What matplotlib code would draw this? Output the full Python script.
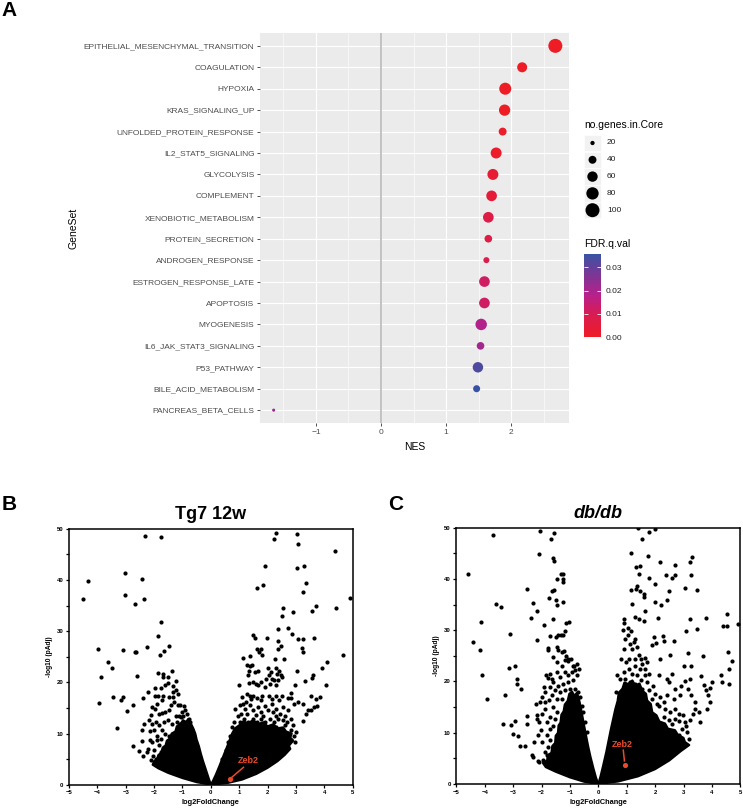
import numpy as np
import matplotlib.pyplot as plt
from matplotlib.colors import LinearSegmentedColormap, Normalize

plt.rcParams['font.family'] = ['Liberation Sans', 'DejaVu Sans']

# ---------------- panel A : GSEA hallmark sets ----------------
gene_sets = ['EPITHELIAL_MESENCHYMAL_TRANSITION', 'COAGULATION', 'HYPOXIA',
             'KRAS_SIGNALING_UP', 'UNFOLDED_PROTEIN_RESPONSE', 'IL2_STAT5_SIGNALING',
             'GLYCOLYSIS', 'COMPLEMENT', 'XENOBIOTIC_METABOLISM', 'PROTEIN_SECRETION',
             'ANDROGEN_RESPONSE', 'ESTROGEN_RESPONSE_LATE', 'APOPTOSIS', 'MYOGENESIS',
             'IL6_JAK_STAT3_SIGNALING', 'P53_PATHWAY', 'BILE_ACID_METABOLISM',
             'PANCREAS_BETA_CELLS']
nes = [2.68, 2.17, 1.91, 1.90, 1.87, 1.77, 1.72, 1.70, 1.65, 1.65,
       1.62, 1.59, 1.59, 1.54, 1.53, 1.49, 1.47, -1.65]
core_genes = [100, 57, 77, 69, 40, 66, 66, 63, 63, 38, 28, 63, 63, 71, 38, 61, 34, 16]
fdr_q = [0.0, 0.0, 0.0, 0.0, 0.001, 0.001, 0.003, 0.004, 0.007, 0.007,
         0.008, 0.012, 0.012, 0.019, 0.021, 0.033, 0.0358, 0.022]

size_breaks = [20, 40, 60, 80, 100]
fdr_breaks = [0.00, 0.01, 0.02, 0.03]
fdr_max = 0.0358

# ---------------- panel B : Tg7 12w volcano ----------------
# outline of the solid (saturated) part of the point cloud
tg7_core_left = [(0, 0), (-0.5, 0.5), (-1.0, 1.3), (-1.5, 2.3), (-1.85, 3.2), (-2.05, 3.9),
                 (-2.0, 4.6), (-1.9, 4.9), (-1.85, 5.8), (-1.75, 6.2), (-1.7, 7.2), (-1.6, 7.6),
                 (-1.55, 8.6), (-1.45, 9.0), (-1.38, 10.0), (-1.25, 10.4), (-1.2, 11.4),
                 (-1.08, 11.8), (-0.98, 12.6), (-0.88, 12.2), (-0.8, 12.8), (-0.7, 11.9),
                 (-0.62, 11.0), (-0.55, 10.0), (-0.5, 8.8), (-0.42, 7.5), (-0.35, 6.0),
                 (-0.27, 4.5), (-0.18, 3.0), (-0.08, 1.3)]
tg7_core_right = [(0, 0), (0.6, 0.35), (1.1, 1.0), (1.6, 2.1), (2.0, 3.3), (2.35, 4.6),
                  (2.6, 5.8), (2.8, 7.0), (2.75, 7.6), (2.9, 8.6), (2.8, 9.2), (2.85, 10.0),
                  (2.65, 10.4), (2.55, 11.2), (2.35, 11.0), (2.2, 11.8), (2.0, 11.4),
                  (1.85, 12.2), (1.65, 11.8), (1.5, 12.6), (1.3, 12.0), (1.15, 12.4),
                  (1.0, 11.6), (0.85, 11.0), (0.75, 10.0), (0.68, 9.0), (0.6, 7.8), (0.5, 6.4),
                  (0.4, 5.0), (0.3, 3.6), (0.18, 2.0), (0.08, 0.8)]
tg7_pts = [
    (-2.32, 48.6), (-1.75, 48.4), (-4.34, 39.8), (-4.51, 36.3), (-3.03, 41.3), (-2.41, 40.2),
    (-3.03, 37.0), (-2.69, 35.3), (-2.36, 36.3), (-1.76, 31.8), (-1.87, 29.0), (-3.99, 26.5),
    (-3.11, 26.4), (-2.69, 26.0), (-2.64, 26.0), (-2.25, 26.8), (-1.49, 27.0), (-1.65, 26.1),
    (-1.80, 25.3), (-3.64, 23.9), (-3.47, 22.8), (-3.88, 21.0), (-2.62, 21.2), (-1.85, 21.9),
    (-1.67, 21.7), (-1.50, 21.0), (-1.37, 22.3), (-1.67, 21.0), (-1.24, 20.2), (-3.44, 17.2),
    (-3.11, 17.2), (-3.15, 16.5), (-3.94, 15.9), (-2.75, 15.6), (-2.95, 14.3), (-2.39, 16.9),
    (-2.21, 18.1), (-1.96, 18.9), (-3.32, 11.0), (-2.75, 7.5), (-2.55, 6.5), (-2.39, 5.7),
    (-2.24, 6.4), (-2.10, 4.8), (-2.03, 5.7), (-2.42, 10.7), (-2.36, 11.8), (-2.43, 8.5),
    (-2.14, 10.5), (-2.16, 8.8),
    (-1.76, 18.9), (-1.61, 19.4), (-1.50, 19.8), (-1.35, 19.3), (-1.24, 18.4), (-1.16, 17.8),
    (-1.34, 18.1), (-1.97, 17.4), (-1.87, 17.4), (-1.70, 17.4), (-1.90, 15.7), (-1.71, 16.5),
    (-1.48, 17.1), (-1.33, 17.1), (-1.30, 16.1), (-1.15, 15.6), (-1.07, 15.6), (-2.09, 15.2),
    (-1.97, 14.8), (-1.83, 13.9), (-1.71, 14.0), (-1.60, 14.2), (-1.48, 14.5), (-1.42, 15.6),
    (-1.24, 13.5), (-1.13, 13.5), (-1.06, 13.2), (-0.99, 13.5), (-2.10, 13.7), (-2.18, 12.6),
    (-2.07, 11.9), (-1.95, 12.2), (-1.83, 11.6), (-1.65, 12.2), (-1.50, 12.6), (-1.36, 11.9),
    (-1.19, 12.2), (-1.07, 11.9), (-0.95, 12.2), (-0.87, 10.9), (-0.77, 11.3), (-2.01, 10.6),
    (-1.89, 9.6), (-1.71, 10.6), (-1.60, 10.0), (-1.46, 9.6), (-2.07, 8.3), (-1.91, 8.7),
    (-1.76, 9.0), (-2.23, 7.0), (-2.01, 6.7), (-1.83, 7.7), (-1.95, 5.1), (-1.77, 6.4),
    (-1.65, 7.4), (-1.07, 10.9), (-0.66, 10.6), (-0.60, 9.6), (-0.92, 14.6), (-0.85, 13.8),
    (-0.78, 12.9), (-0.95, 15.4), (-0.72, 12.3), (-1.00, 14.2),
    (2.31, 49.2), (2.23, 47.9), (3.05, 48.9), (3.06, 47.1), (4.37, 45.7), (1.92, 42.8),
    (3.03, 42.3), (3.29, 42.8), (3.36, 39.3), (1.61, 38.4), (1.84, 39.1), (3.24, 37.6),
    (4.89, 36.5), (4.41, 34.6), (2.55, 34.5), (2.50, 33.0), (2.88, 33.7), (3.58, 33.9),
    (3.71, 35.0), (2.35, 30.5), (2.71, 30.7), (2.86, 29.4), (3.08, 28.4), (3.24, 28.4),
    (3.64, 28.7), (1.97, 28.7), (1.47, 29.2), (1.56, 28.7), (1.63, 26.6), (1.70, 25.9),
    (1.82, 25.4), (1.78, 26.6), (2.35, 28.1), (2.48, 27.1), (2.35, 26.5), (3.23, 26.7),
    (3.24, 25.9), (4.65, 25.4), (1.12, 24.8), (1.39, 25.1), (2.25, 24.6), (2.57, 24.5),
    (3.02, 22.3), (4.08, 24.0), (3.91, 22.7), (3.59, 21.4), (3.58, 20.9), (1.27, 23.3),
    (1.37, 23.2), (1.46, 23.4), (1.33, 22.3), (1.55, 22.0), (1.67, 22.2), (2.03, 22.7),
    (2.11, 22.0), (2.28, 22.7), (2.34, 21.7), (2.41, 22.3), (2.48, 21.5), (2.05, 21.4),
    (2.14, 20.7), (1.94, 20.7), (2.24, 20.4), (2.38, 20.4), (2.51, 21.0), (1.31, 21.4),
    (1.33, 19.8), (1.47, 20.1), (1.67, 19.4), (1.78, 20.1), (1.90, 19.1), (2.07, 19.7),
    (2.31, 19.4), (0.99, 19.5), (1.58, 19.6), (2.97, 19.5), (3.31, 20.2), (4.05, 19.5),
    (1.26, 17.8), (1.37, 17.3), (1.48, 17.3), (1.10, 17.1), (1.24, 16.1), (1.63, 17.0),
    (1.81, 17.4), (2.04, 17.4), (2.31, 17.3), (2.52, 17.3), (2.81, 17.9), (2.72, 16.9),
    (2.82, 17.0), (2.92, 15.7), (3.08, 16.1), (3.25, 15.7), (3.53, 17.4), (3.69, 16.8),
    (3.83, 17.1), (3.65, 15.2), (3.74, 15.3), (3.43, 14.6), (3.35, 13.9), (3.25, 12.4),
    (3.00, 10.2), (3.52, 14.5),
    (0.85, 14.8), (1.02, 15.6), (0.94, 13.5), (1.08, 13.9), (1.20, 14.8), (1.37, 15.5),
    (1.49, 14.5), (1.67, 15.2), (1.76, 14.2), (1.90, 15.4), (2.00, 14.5), (2.14, 15.8),
    (2.20, 14.2), (2.31, 14.8), (2.43, 13.9), (2.55, 15.2), (2.63, 13.5), (2.72, 14.5),
    (2.82, 12.9), (2.70, 12.2), (2.55, 12.6), (2.37, 12.9), (2.23, 12.2), (2.08, 12.9),
    (1.92, 12.2), (1.78, 12.9), (1.64, 12.2), (1.49, 12.9), (1.31, 12.2), (1.17, 12.9),
    (1.02, 12.2), (0.82, 12.2), (0.75, 11.3), (0.90, 10.9), (2.90, 11.6), (2.84, 10.6),
    (2.93, 9.6), (2.84, 8.7), (2.98, 8.3), (1.43, 16.7), (1.78, 16.5), (2.14, 16.8),
    (2.39, 16.5), (1.14, 15.8), (1.29, 13.9), (1.58, 13.7), (1.84, 13.4), (2.28, 13.5),
    (2.61, 11.6), (2.31, 11.3), (2.00, 11.3), (1.67, 10.9), (1.34, 10.6), (2.70, 9.3),
    (2.58, 10.2), (0.68, 9.6), (0.61, 8.3), (0.52, 6.7), (0.40, 5.1),
]
tg7_zeb2 = (0.68, 1.05)

# ---------------- panel C : db/db volcano ----------------
dbdb_core_left = [(0, 0), (-0.5, 0.45), (-1.0, 1.3), (-1.5, 2.4), (-1.85, 3.3), (-1.95, 4.1),
                  (-1.8, 4.6), (-1.78, 5.6), (-1.65, 6.1), (-1.62, 7.4), (-1.52, 8.0),
                  (-1.5, 9.4), (-1.42, 10.0), (-1.4, 11.4), (-1.33, 12.0), (-1.3, 13.5),
                  (-1.22, 14.2), (-1.18, 15.5), (-1.08, 16.2), (-1.02, 17.6), (-0.92, 18.0),
                  (-0.85, 17.2), (-0.75, 17.8), (-0.68, 16.5), (-0.62, 15.0), (-0.56, 13.2),
                  (-0.5, 11.4), (-0.43, 9.4), (-0.36, 7.4), (-0.28, 5.4), (-0.18, 3.2),
                  (-0.08, 1.2)]
dbdb_core_right = [(0, 0), (0.7, 0.5), (1.4, 1.5), (2.0, 2.9), (2.5, 4.6), (2.9, 6.4),
                   (3.2, 7.6), (3.05, 8.2), (3.0, 9.0), (2.8, 9.6), (2.7, 10.5), (2.45, 10.8),
                   (2.35, 11.8), (2.15, 12.2), (2.05, 13.4), (1.9, 14.0), (1.85, 15.6),
                   (1.72, 16.3), (1.68, 17.6), (1.55, 18.2), (1.45, 19.6), (1.3, 19.2),
                   (1.2, 20.2), (1.05, 19.5), (0.92, 19.8), (0.85, 18.6), (0.72, 17.8),
                   (0.68, 16.2), (0.6, 14.6), (0.52, 12.6), (0.44, 10.6), (0.36, 8.4),
                   (0.28, 6.2), (0.18, 3.8), (0.08, 1.5)]
dbdb_pts = [
    (-3.72, 48.5), (-2.05, 49.3), (-1.56, 49.0), (-1.65, 47.7), (-2.08, 44.9), (-1.61, 44.0),
    (-1.55, 43.6), (-4.59, 40.9), (-1.33, 40.9), (-1.23, 41.0), (-1.44, 39.9), (-1.26, 39.9),
    (-1.26, 39.5), (-2.50, 38.0), (-1.64, 37.6), (-1.56, 37.8), (-1.74, 36.3), (-2.31, 35.3),
    (-1.49, 35.9), (-1.24, 35.6), (-1.44, 35.0), (-3.59, 35.2), (-3.42, 34.5), (-2.15, 33.7),
    (-2.36, 32.4), (-1.60, 32.1), (-1.90, 31.1), (-1.12, 31.5), (-1.03, 31.6), (-4.12, 31.7),
    (-3.11, 29.3), (-2.16, 28.0), (-1.70, 28.9), (-1.49, 28.7), (-1.41, 29.0), (-1.31, 29.0),
    (-1.23, 29.1), (-1.16, 29.8), (-4.42, 27.7), (-4.15, 26.1), (-1.78, 26.2), (-1.76, 26.5),
    (-1.47, 26.7), (-1.41, 26.1), (-1.29, 25.7), (-1.22, 25.9), (-1.61, 24.8), (-1.15, 25.0),
    (-1.44, 23.8), (-1.29, 23.0), (-1.17, 24.1), (-1.08, 23.9), (-1.06, 24.4), (-0.97, 24.4),
    (-0.90, 23.1), (-0.86, 23.0), (-3.13, 22.7), (-2.93, 23.0), (-4.08, 21.3), (-1.84, 21.2),
    (-1.78, 20.7), (-1.70, 21.4), (-1.64, 20.5), (-1.58, 19.9), (-2.85, 20.4), (-2.88, 19.6),
    (-2.72, 18.6), (-3.93, 16.6), (-3.30, 17.4), (-2.19, 15.6), (-2.05, 16.0), (-1.97, 17.0),
    (-1.87, 17.9), (-1.90, 18.9), (-1.70, 18.9), (-1.64, 17.3), (-1.53, 18.3), (-1.73, 16.3),
    (-3.35, 11.7), (-3.08, 11.6), (-2.95, 12.2), (-2.50, 13.3), (-2.50, 11.8), (-3.02, 9.7),
    (-2.82, 9.3), (-2.76, 7.4), (-2.59, 7.4), (-2.17, 13.4), (-2.15, 12.7), (-2.08, 12.1),
    (-2.03, 10.5), (-2.11, 9.5), (-2.29, 5.2), (-2.14, 4.4), (-2.08, 4.3), (-1.96, 4.6),
    (-1.88, 6.2), (-2.00, 8.2), (-1.82, 9.5), (-1.70, 10.8), (-1.70, 13.1),
    (-1.47, 21.8), (-1.35, 20.9), (-1.17, 21.8), (-1.06, 21.2), (-0.94, 21.8), (-0.82, 22.2),
    (-0.76, 21.2), (-0.88, 20.2), (-1.06, 19.9), (-1.23, 19.6), (-1.41, 19.2), (-1.35, 17.9),
    (-1.17, 18.3), (-1.00, 18.6), (-0.82, 18.6), (-0.70, 17.9), (-1.47, 16.6), (-1.29, 16.6),
    (-0.65, 17.0), (-1.58, 15.0), (-1.44, 14.0), (-1.53, 12.7), (-1.61, 11.4), (-0.59, 15.3),
    (-0.53, 14.0), (-0.47, 12.1), (-0.41, 10.1), (-1.70, 8.5), (-1.76, 7.2), (-1.82, 5.6),
    (-0.76, 23.5), (-0.67, 22.5), (-1.88, 16.0), (-1.88, 14.7), (-2.00, 13.7), (-1.82, 12.1),
    (-2.25, 8.2), (-2.35, 5.6),
    (1.41, 50.0), (1.80, 49.2), (1.98, 49.7), (1.54, 47.7), (1.14, 45.1), (1.74, 44.5),
    (2.17, 43.4), (3.30, 44.3), (3.22, 43.3), (2.69, 42.8), (1.31, 42.3), (1.46, 42.5),
    (1.45, 40.9), (3.27, 40.8), (2.39, 40.7), (2.69, 40.8), (2.59, 40.2), (1.77, 40.1),
    (1.98, 39.1), (1.36, 38.6), (1.33, 38.1), (1.46, 37.6), (1.62, 37.0), (1.61, 36.5),
    (1.16, 37.8), (2.48, 37.6), (3.04, 38.2), (3.46, 37.8), (1.19, 35.2), (1.98, 35.5),
    (2.21, 35.0), (2.42, 35.9), (1.65, 33.7), (1.30, 32.6), (1.42, 32.2), (1.60, 31.8),
    (2.10, 32.4), (3.23, 32.2), (3.80, 32.4), (4.54, 33.2), (4.54, 30.8), (4.39, 30.8),
    (4.91, 31.3), (0.92, 32.2), (0.90, 31.4), (0.86, 30.0), (1.04, 30.4), (1.16, 29.8),
    (1.28, 28.3), (1.03, 29.1), (1.10, 27.4), (1.19, 26.3), (1.24, 27.7), (1.36, 26.7),
    (1.42, 25.1), (1.49, 24.4), (1.63, 24.6), (1.71, 23.8), (0.95, 28.2), (1.89, 27.2),
    (2.02, 27.6), (2.27, 28.9), (2.31, 27.9), (1.95, 28.7), (2.65, 27.9), (3.09, 29.9),
    (3.49, 30.3), (2.51, 25.2), (2.18, 24.4), (3.15, 25.5), (3.25, 23.0), (3.00, 23.0),
    (3.67, 24.9), (4.55, 25.7), (4.71, 23.9), (4.59, 22.5), (4.31, 21.3), (4.35, 19.9),
    (4.60, 19.6), (3.62, 21.1), (4.01, 19.9), (3.92, 18.8), (2.59, 21.4), (2.43, 20.5),
    (2.90, 19.1), (3.22, 20.4), (3.04, 20.0), (3.16, 18.6), (3.71, 19.4), (3.80, 18.3),
    (3.25, 17.3), (3.88, 17.4), (3.92, 16.0), (3.83, 14.7), (3.42, 14.7), (3.32, 13.6),
    (3.23, 12.4), (3.10, 11.3), (2.97, 13.4), (2.85, 12.2), (2.71, 12.6), (2.59, 11.8),
    (2.42, 17.3), (2.30, 16.0), (2.12, 15.3), (1.91, 19.2), (1.71, 19.9), (1.63, 21.2),
    (1.48, 22.5), (1.30, 23.1), (1.09, 24.4), (0.89, 26.4), (0.81, 24.4), (0.67, 21.2),
    (0.63, 17.9), (0.77, 20.5), (0.92, 21.8), (0.99, 23.8),
    (1.07, 22.5), (1.19, 21.5), (1.36, 21.2), (1.51, 20.2), (0.95, 20.5), (1.13, 19.9),
    (1.30, 19.6), (1.54, 18.6), (1.77, 18.3), (2.01, 17.6), (2.18, 17.0), (1.89, 16.6),
    (2.06, 15.7), (2.36, 14.7), (2.54, 14.0), (2.71, 14.7), (2.85, 13.7), (2.30, 13.1),
    (2.48, 12.4), (3.06, 12.1), (2.95, 10.8), (3.12, 10.1), (2.83, 9.5), (2.59, 8.5),
    (3.18, 8.8), (0.72, 16.6), (0.83, 17.3), (0.72, 14.7), (0.60, 12.1), (0.48, 9.5),
    (0.36, 6.2), (0.25, 3.6), (1.65, 22.5), (1.80, 21.5), (1.30, 24.4), (1.54, 23.5),
    (2.12, 21.2), (2.48, 19.9), (2.71, 18.6), (2.89, 17.3), (2.65, 16.6), (3.42, 16.0),
    (3.53, 14.0), (3.59, 12.1),
]
dbdb_zeb2 = (0.93, 3.77)

# ---------------- figure ----------------
W, H = 743, 810
fig = plt.figure(figsize=(W / 100, H / 100), dpi=100)


def px_rect(x0, y0, x1, y1):
    return [x0 / W, 1 - y1 / H, (x1 - x0) / W, (y1 - y0) / H]


def dot_area(n):
    # ggplot-like area scale, diameter in px -> marker area in pt^2
    d = np.sqrt(np.clip(2.22 * np.asarray(n, dtype=float) - 26, 4, None))
    return (d * 0.72) ** 2


cmap = LinearSegmentedColormap.from_list(
    'fdr', ['#EE1C25', '#DA1C4E', '#B8208A', '#7C3695', '#3953A4'])
norm = Normalize(0, fdr_max)

# panel A
ax = fig.add_axes(px_rect(260, 33, 569, 423))
ax.set_facecolor('#EBEBEB')
ypos = np.arange(len(gene_sets))[::-1]
ax.set_xlim(-1.86, 2.89)
ax.set_ylim(-0.6, len(gene_sets) - 0.4)
ax.set_xticks([-1, 0, 1, 2])
ax.set_xticks([-1.5, -0.5, 0.5, 1.5, 2.5], minor=True)
ax.set_yticks(ypos)
ax.set_yticklabels(gene_sets)
ax.grid(which='major', color='white', lw=0.8)
ax.grid(which='minor', axis='x', color='white', lw=0.4)
ax.set_axisbelow(True)
for sp in ax.spines.values():
    sp.set_visible(False)
ax.axvline(0, color='#BEBEBE', lw=1.3, zorder=1.5)
ax.scatter(nes, ypos, s=dot_area(core_genes), c=fdr_q, cmap=cmap, norm=norm,
           linewidths=0, zorder=3)
ax.tick_params(which='major', length=2.5, width=0.6, color='#333333',
               labelsize=6, labelcolor='#4D4D4D', pad=1.5)
ax.tick_params(which='minor', length=0)
ax.set_xlabel('NES', fontsize=7.5, labelpad=5)
ax.set_ylabel('GeneSet', fontsize=7.5, labelpad=4)

# size legend
lax = fig.add_axes([0, 0, 1, 1])
lax.set_xlim(0, W)
lax.set_ylim(H, 0)
lax.axis('off')
lax.text(584, 125, 'no.genes.in.Core', fontsize=7.5, va='center', ha='left')
key_y = 143 + 16.8 * np.arange(len(size_breaks))
for yk, nb in zip(key_y, size_breaks):
    lax.add_patch(plt.Rectangle((584, yk - 8.2), 17, 16.4, fc='#F2F2F2', ec='white', lw=0.5))
    lax.text(607, yk, str(nb), fontsize=6, va='center', ha='left', color='#222222')
lax.scatter(np.full(len(size_breaks), 592.5), key_y, s=dot_area(size_breaks),
            c='black', linewidths=0, zorder=3)
lax.text(584, 244, 'FDR.q.val', fontsize=7.5, va='center', ha='left')

# colour bar
cax = fig.add_axes(px_rect(584, 254, 601, 337))
cb = fig.colorbar(plt.cm.ScalarMappable(norm=norm, cmap=cmap), cax=cax)
cb.outline.set_visible(False)
cb.set_ticks(fdr_breaks)
cb.set_ticklabels(['%.2f' % v for v in fdr_breaks])
cax.tick_params(direction='in', length=3, width=0.6, color='white', left=True, right=True,
                labelsize=6, labelcolor='#222222', pad=3)

# volcano panels
zeb_col = '#EA4B2A'


def volcano(rect, core_l, core_r, pts, zeb, lab_xy, line_xy, title, italic):
    vx = fig.add_axes(rect)
    for core in (core_l, core_r):
        cx, cy = zip(*core)
        vx.fill(cx, cy, fc='black', ec='black', lw=1.6, joinstyle='round', zorder=2)
    x, y = zip(*pts)
    vx.scatter(x, y, s=9, c='black', linewidths=0, zorder=3)
    vx.plot(line_xy[0], line_xy[1], color=zeb_col, lw=1.1, zorder=4)
    vx.scatter([zeb[0]], [zeb[1]], s=14, c=zeb_col, linewidths=0, zorder=5)
    vx.text(lab_xy[0], lab_xy[1], 'Zeb2', color=zeb_col, fontsize=6.5,
            fontweight='bold', ha='center', va='center', zorder=5)
    vx.set_xlim(-5, 5)
    vx.set_ylim(0, 50)
    vx.set_xticks(range(-5, 6))
    vx.set_yticks(range(0, 51, 10))
    vx.set_yticks(range(5, 50, 10), minor=True)
    for sp in vx.spines.values():
        sp.set_linewidth(1.1)
    vx.tick_params(which='both', direction='out', length=2.5, width=0.9, labelsize=4.3, pad=1.5)
    for lab in vx.get_xticklabels() + vx.get_yticklabels():
        lab.set_fontweight('bold')
    vx.set_xlabel('log2FoldChange', fontsize=5.3, fontweight='bold', labelpad=3)
    vx.set_ylabel('-log10 (pAdj)', fontsize=4.8, fontweight='bold', labelpad=3)
    vx.set_title(title, fontsize=13, fontweight='bold', style='italic' if italic else 'normal',
                 pad=7)
    return vx


volcano(px_rect(69, 528.7, 352.7, 784.7), tg7_core_left, tg7_core_right, tg7_pts,
        tg7_zeb2, (1.32, 4.7), ([0.75, 1.15], [1.5, 3.4]), 'Tg7 12w', False)
volcano(px_rect(456.3, 527.7, 740.3, 784), dbdb_core_left, dbdb_core_right, dbdb_pts,
        dbdb_zeb2, (0.86, 7.7), ([0.88, 0.92], [6.6, 4.5]), 'db/db', True)

fig.text(1 / W, 1 - 10 / H, 'A', fontsize=15, fontweight='bold', va='center', ha='left')
fig.text(2 / W, 1 - 505 / H, 'B', fontsize=15, fontweight='bold', va='center', ha='left')
fig.text(388 / W, 1 - 505 / H, 'C', fontsize=15, fontweight='bold', va='center', ha='left')

fig.savefig('out.png', dpi=100)
